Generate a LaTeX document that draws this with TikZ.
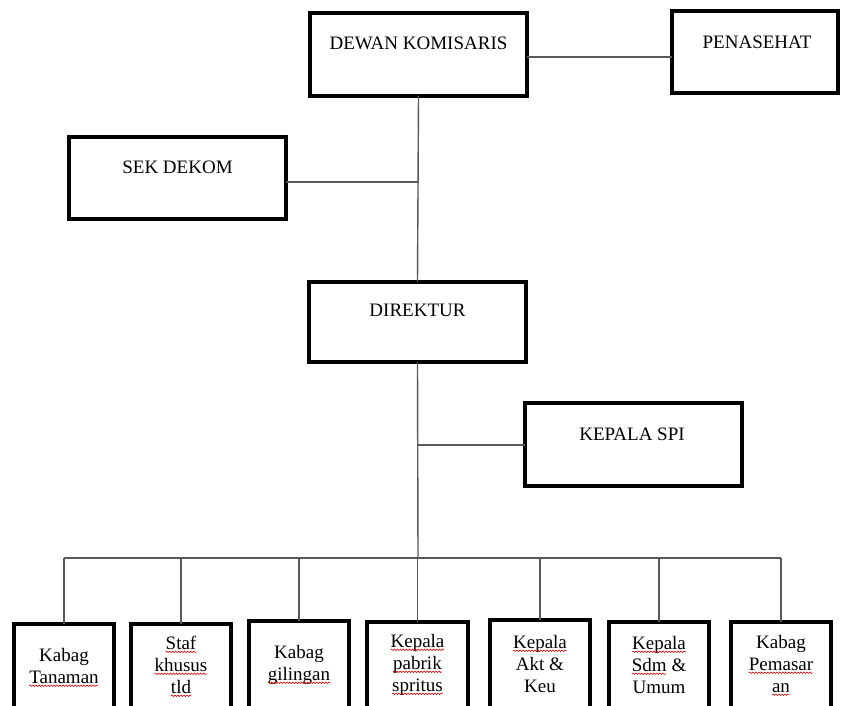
\documentclass[tikz,border=0pt]{standalone}
\usepackage{fontspec}
\setmainfont{Liberation Serif}
\usetikzlibrary{decorations.pathmorphing}
\tikzset{
  box/.style={draw=black, line width=4pt, rectangle, inner sep=0pt, outer sep=0pt},
  conn/.style={draw=black!65, line width=1.4pt},
  lbl/.style={inner sep=0pt, outer sep=0pt, font=\fontsize{19}{22}\selectfont, align=center, anchor=base},
}
\newcommand{\sqw}[1]{\tikz[baseline=(sqwtxt.base)]{\node[inner sep=0pt,outer sep=0pt,draw=none,anchor=base] (sqwtxt) {#1};\draw[red!85!black, line width=0.6pt, decorate, decoration={snake, amplitude=0.7pt, segment length=3pt}] ([yshift=-2.8pt]sqwtxt.base west) -- ([yshift=-2.8pt]sqwtxt.base east);}}
\begin{document}
\begin{tikzpicture}[x=1pt,y=-1pt]
\clip (0,0) rectangle (841,706);
\fill[white] (0,0) rectangle (841,706);
% top level boxes
\node[box, minimum width=217pt, minimum height=83pt] (dk) at (418.5,54.5) {};
\node[lbl] (dkt) at (418.5,50) {DEWAN KOMISARIS};
\node[box, minimum width=166pt, minimum height=82pt] (pen) at (755,52) {};
\node[lbl] (pent) at (757,49) {PENASEHAT};
\node[box, minimum width=217pt, minimum height=82pt] (sek) at (177.5,178) {};
\node[lbl] (sekt) at (177.5,174) {SEK DEKOM};
\node[box, minimum width=217pt, minimum height=80pt] (dir) at (417.5,322) {};
\node[lbl] (dirt) at (417.5,316) {DIREKTUR};
\node[box, minimum width=217pt, minimum height=83pt] (spi) at (633.5,444.5) {};
\node[lbl] (spit) at (632,440) {KEPALA SPI};
% bottom boxes
\node[box, minimum width=100pt, minimum height=130pt, anchor=north] (b1) at (64,624) {};
\node[box, minimum width=100pt, minimum height=130pt, anchor=north] (b2) at (181,624) {};
\node[box, minimum width=100pt, minimum height=130pt, anchor=north] (b3) at (299,621) {};
\node[box, minimum width=101pt, minimum height=130pt, anchor=north] (b4) at (417.5,622) {};
\node[box, minimum width=100pt, minimum height=130pt, anchor=north] (b5) at (540,620) {};
\node[box, minimum width=100pt, minimum height=130pt, anchor=north] (b6) at (659,622) {};
\node[box, minimum width=100pt, minimum height=130pt, anchor=north] (b7) at (781,622) {};
\node[lbl] (b1t) at (64,683) {Kabag\\\sqw{Tanaman}};
\node[lbl] (b2t) at (181,693) {\sqw{Staf}\\\sqw{khusus}\\\sqw{tld}};
\node[lbl] (b3t) at (299,680) {Kabag\\\sqw{gilingan}};
\node[lbl] (b4t) at (417.5,691) {\sqw{Kepala}\\\sqw{pabrik}\\\sqw{spritus}};
\node[lbl] (b5t) at (540,692) {\sqw{Kepala}\\Akt \&\\Keu};
\node[lbl] (b6t) at (659,693) {\sqw{Kepala}\\\sqw{Sdm} \&\\Umum};
\node[lbl] (b7t) at (781,692) {Kabag\\\sqw{Pemasar}\\\sqw{an}};
% connectors
\coordinate (jpen) at (600,57);
\coordinate (jsek) at (419,182);
\coordinate (jspi) at (418,445);
\coordinate (bus) at (418,558);
\draw[conn] (dk.east |- jpen) -- (pen.west |- jpen);
\draw[conn] (dk.south) -- (dir.north);
\draw[conn] (sek.east |- jsek) -- (jsek);
\draw[conn] (dir.south) -- (bus);
\draw[conn] (jspi) -- (spi.west |- jspi);
\draw[conn] (b1.north |- bus) -- (b7.north |- bus);
\foreach \b in {b1,b2,b3,b4,b5,b6,b7}{
  \draw[conn] (\b.north |- bus) -- (\b.north);
}
\end{tikzpicture}
\end{document}
